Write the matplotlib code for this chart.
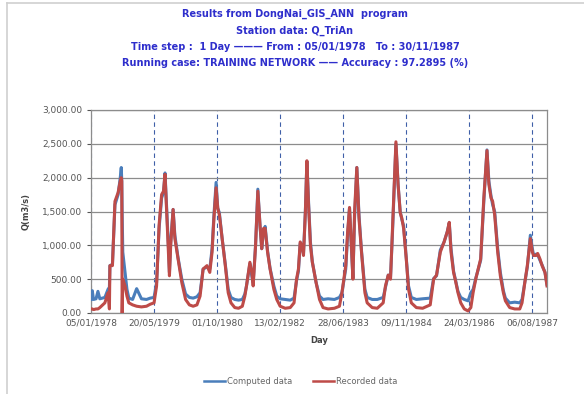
import matplotlib
matplotlib.use("Agg")
import matplotlib.pyplot as plt
from matplotlib.ticker import FuncFormatter
from matplotlib.lines import Line2D

# days counted from 05/01/1978
day = [0, 10, 20, 40, 55, 70, 110, 135, 146, 150, 170, 190, 215, 232, 240, 244, 247, 252, 270, 285,
       300, 330, 362, 400, 440, 470,
       500, 520, 540, 560, 575, 587, 600, 615, 622, 632, 651, 665, 690, 720, 750, 780, 810, 840, 865,
       889, 920, 942, 960, 975, 992, 1005, 1018, 1040, 1065, 1088, 1110, 1140, 1170, 1200, 1220,
       1233, 1260, 1275, 1286, 1305, 1323, 1340, 1354, 1368, 1381, 1400, 1420, 1450, 1473, 1500, 1540, 1580, 1610,
       1630, 1645, 1659, 1672, 1685, 1700, 1712, 1725, 1740, 1755, 1785, 1812, 1840, 1880, 1930, 1970,
       1990, 2020, 2035, 2050, 2065, 2077, 2090, 2108, 2125, 2145, 2172, 2190, 2230, 2270, 2317,
       2335, 2357, 2375, 2390, 2418, 2435, 2452, 2465, 2479, 2500, 2518, 2540, 2580, 2630, 2690,
       2717, 2740, 2770, 2800, 2825, 2841, 2855, 2875, 2891, 2910, 2932, 2960, 2990, 3012, 3030,
       3052, 3070, 3090, 3115, 3140, 3155, 3172, 3185, 3201, 3225, 3246, 3270, 3286, 3320, 3360, 3400, 3418,
       3440, 3460, 3484, 3500, 3510, 3530, 3542, 3560, 3577, 3600, 3616]

recorded = [60, 60, 50, 60, 60, 80, 150, 300, 60, 700, 700, 1650, 1780, 1950, 2000, 1950, 0, 500, 400, 250,
            150, 120, 100, 90, 100, 130,
            150, 400, 1300, 1750, 1800, 2050, 1500, 900, 550, 1000, 1530, 1100, 800, 450, 200, 120, 100, 120, 250,
            650, 700, 600, 900, 1400, 1850, 1550, 1450, 1100, 700, 300, 150, 80, 70, 100, 250,
            400, 750, 600, 400, 1000, 1800, 1300, 950, 1250, 1250, 900, 650, 350, 200, 100, 70, 80, 150,
            500, 650, 1050, 1000, 850, 1500, 2250, 1600, 1000, 750, 450, 200, 80, 60, 70, 100,
            300, 700, 1200, 1560, 1000, 500, 1500, 2150, 1400, 900, 300, 150, 80, 70, 150,
            400, 560, 500, 1200, 2530, 1900, 1480, 1400, 1250, 800, 350, 150, 80, 70, 120,
            500, 560, 900, 1050, 1200, 1340, 900, 600, 470, 300, 150, 60, 30, 80, 300,
            510, 650, 800, 1700, 2400, 1900, 1700, 1650, 1450, 900, 550, 300, 180, 80, 60, 60, 150,
            450, 700, 1100, 900, 850, 850, 880, 800, 700, 600, 400]

computed = [200, 330, 200, 210, 320, 210, 230, 350, 380, 700, 720, 1600, 1750, 2000, 2150, 1950, 1500, 900, 600, 350,
            220, 200, 360, 210, 200, 220,
            230, 450, 1250, 1700, 1780, 2070, 1550, 950, 600, 1050, 1530, 1150, 820, 500, 280, 230, 220, 240, 300,
            650, 680, 650, 950, 1450, 1930, 1550, 1480, 1100, 720, 350, 230, 200, 190, 200, 280,
            400, 730, 550, 450, 1000, 1830, 1300, 950, 1200, 1280, 920, 660, 400, 250, 210, 200, 190, 220,
            480, 620, 1030, 980, 880, 1500, 2240, 1650, 1050, 760, 450, 250, 200, 210, 200, 230,
            300, 650, 1150, 1550, 950, 520, 1400, 2150, 1450, 920, 350, 230, 200, 200, 230,
            380, 560, 520, 1150, 2500, 1900, 1500, 1380, 1290, 800, 400, 230, 200, 210, 220,
            510, 550, 930, 1050, 1200, 1330, 950, 620, 480, 320, 230, 200, 180, 300, 350,
            520, 640, 780, 1650, 2410, 1950, 1730, 1600, 1500, 950, 600, 330, 220, 150, 160, 150, 200,
            450, 680, 1150, 950, 850, 870, 860, 780, 710, 600, 420]

tick_days = [0, 500, 1000, 1500, 2000, 2500, 3000, 3500]
tick_labels = ["05/01/1978", "20/05/1979", "01/10/1980", "13/02/1982",
               "28/06/1983", "09/11/1984", "24/03/1986", "06/08/1987"]
y_ticks = [0, 500, 1000, 1500, 2000, 2500, 3000]

title_lines = ["Results from DongNai_GIS_ANN  program",
               "Station data: Q_TriAn",
               "Time step :  1 Day \u2014\u2014\u2014 From : 05/01/1978   To : 30/11/1987",
               "Running case: TRAINING NETWORK \u2014\u2014 Accuracy : 97.2895 (%)"]

blue = "#4A7EBB"
red = "#BE4B48"
title_color = "#2E2ECC"

fig = plt.figure(figsize=(5.84, 3.94), dpi=100)
ax = fig.add_axes([91 / 584, 1 - 313 / 394, 456 / 584, 203 / 394])

ax.plot(day, computed, color=blue, lw=2.2, zorder=3)
ax.plot(day, recorded, color=red, lw=2.2, zorder=4)

ax.set_xlim(0, 3616)
ax.set_ylim(0, 3000)
ax.set_xticks(tick_days)
ax.set_xticklabels(tick_labels)
ax.set_yticks(y_ticks)
ax.yaxis.set_major_formatter(FuncFormatter(lambda v, p: f"{v:,.2f}"))
ax.tick_params(labelsize=6.5, colors="#555555", length=3, width=0.8)
ax.tick_params(axis="x", length=0, pad=4)

ax.grid(axis="y", color="#8C8C8C", lw=0.9)
ax.grid(axis="x", color="#3F5FA8", lw=0.8, ls=(0, (4, 3)))
ax.set_axisbelow(True)
for s in ax.spines.values():
    s.set_color("#8C8C8C")
    s.set_linewidth(0.9)

ax.set_xlabel("Day", fontsize=6, fontweight="bold", color="#444444", labelpad=6)
ax.set_ylabel("Q(m3/s)", fontsize=6, fontweight="bold", color="#444444", labelpad=8)

for i, t in enumerate(title_lines):
    fig.text(0.505, 1 - (14 + 16.5 * i) / 394, t, ha="center", va="center",
             fontsize=7, fontweight="bold", color=title_color)

handles = [Line2D([], [], color=blue, lw=1.8), Line2D([], [], color=red, lw=1.8)]
fig.legend(handles, ["Computed data", "Recorded data"], loc="center",
           bbox_to_anchor=(0.515, 1 - 381 / 394), ncol=2, frameon=False,
           fontsize=6, handlelength=2.5, columnspacing=2.5, handletextpad=0.3,
           labelcolor="#666666")

# chart frame edges visible in the screenshot
fig.add_artist(Line2D([7 / 584, 7 / 584], [0, 1 - 3 / 394], color="#CFCFCF", lw=1.2))
fig.add_artist(Line2D([7 / 584, 1], [1 - 3 / 394, 1 - 3 / 394], color="#CFCFCF", lw=1.2))

fig.savefig("out.png", dpi=100)
